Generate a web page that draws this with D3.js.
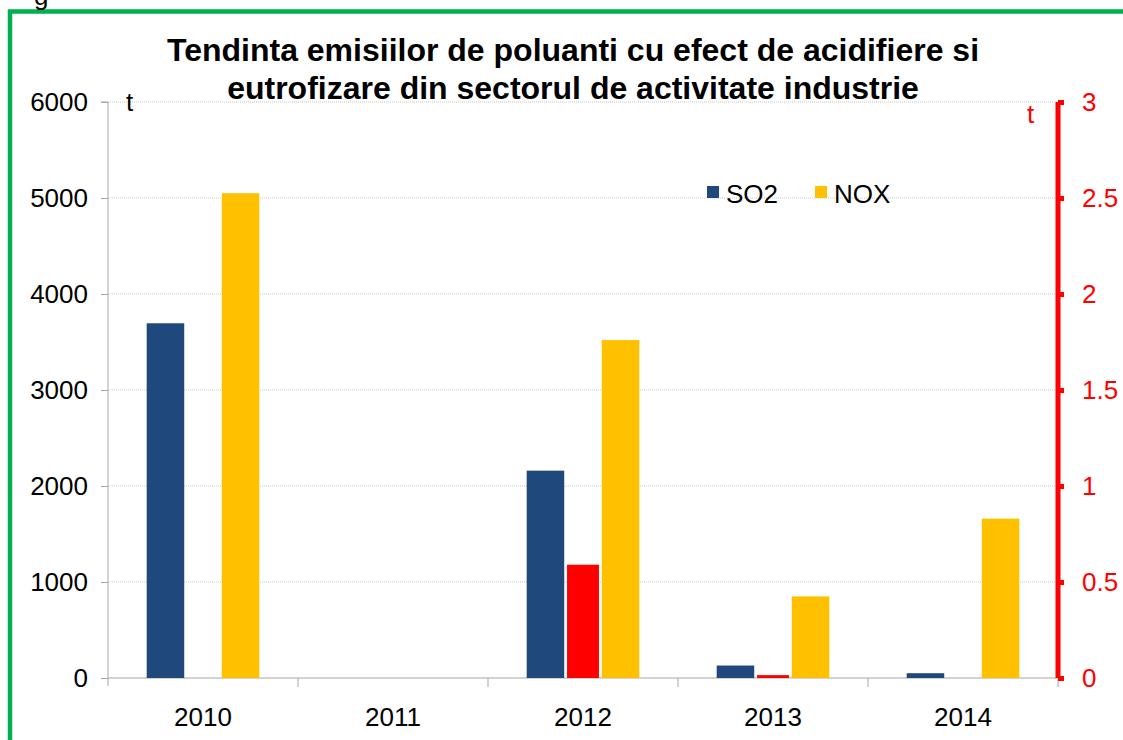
<!DOCTYPE html>
<html>
<head>
<meta charset="utf-8">
<script src="https://cdn.jsdelivr.net/npm/d3@7"></script>
<style>
  body { margin: 0; background: #fff; }
  svg { font-family: "Liberation Sans", Arial, sans-serif; }
</style>
</head>
<body>
<svg width="1123" height="740"></svg>
<script>
var years = ["2010", "2011", "2012", "2013", "2014"];
var so2 = [3695, null, 2160, 130, 50];
var nox = [5050, null, 3520, 850, 1660];
var third = [null, null, 0.59, 0.015, null];   // red series, right axis
var leftTicks = [0, 1000, 2000, 3000, 4000, 5000, 6000];
var rightTicks = [0, 0.5, 1, 1.5, 2, 2.5, 3];
var titleLines = ["Tendinta emisiilor de poluanti cu efect de acidifiere si",
                  "eutrofizare din sectorul de activitate industrie"];

var svg = d3.select("svg");
var pLeft = 108, pRight = 1058, pTop = 102, pBottom = 678;

// green frame
svg.append("path")
    .attr("d", "M10,740 V11.5 H1123")
    .attr("fill", "none")
    .attr("stroke", "#00b050")
    .attr("stroke-width", 4.5);

svg.append("text").attr("x", 34).attr("y", 5).attr("font-size", 26).text("g");

var x = d3.scaleBand().domain(years).range([pLeft, pRight]);
var inner = d3.scaleBand().domain(["so2", "red", "nox"]).range([0, x.bandwidth()])
    .paddingOuter(1.03);
var y = d3.scaleLinear().domain([0, 6000]).range([pBottom, pTop]);
var y2 = d3.scaleLinear().domain([0, 3]).range([pBottom, pTop]);

// grid
svg.append("g").selectAll("line").data(leftTicks.slice(1)).enter().append("line")
    .attr("x1", pLeft).attr("x2", pRight)
    .attr("y1", d => y(d)).attr("y2", d => y(d))
    .attr("stroke", "#c8c8c8").attr("stroke-dasharray", "1,1");

// left axis
var ax = svg.append("g").attr("transform", "translate(" + pLeft + ",0)")
    .call(d3.axisLeft(y).tickValues(leftTicks).tickFormat(d3.format("d")).tickSize(7).tickPadding(13));
ax.select(".domain").attr("stroke", "#a6a6a6").attr("d", "M-7," + pTop + "H0V" + (pBottom + 8));
ax.selectAll(".tick line").attr("stroke", "#a6a6a6");
ax.selectAll("text").attr("font-size", 26).attr("fill", "#000");

// bottom axis
var bx = svg.append("g").attr("transform", "translate(0," + pBottom + ")")
    .call(d3.axisBottom(x).tickSize(0).tickPadding(30));
bx.select(".domain").attr("stroke", "#a6a6a6").attr("d", "M" + pLeft + ",0H" + pRight);
bx.selectAll("text").attr("font-size", 26).attr("fill", "#000");
svg.append("g").selectAll("line").data(years.slice(1).concat(["end"])).enter().append("line")
    .attr("x1", d => d == "end" ? pRight : x(d)).attr("x2", d => d == "end" ? pRight : x(d))
    .attr("y1", pBottom).attr("y2", pBottom + 9)
    .attr("stroke", "#a6a6a6");

// right axis
var rx = svg.append("g").attr("transform", "translate(" + pRight + ",0)")
    .call(d3.axisRight(y2).tickValues(rightTicks).tickFormat(d => String(d)).tickSize(6).tickPadding(18));
rx.select(".domain").attr("stroke", "#ff0000").attr("stroke-width", 5)
    .attr("d", "M0," + pTop + "V" + pBottom);
rx.selectAll(".tick line").attr("stroke", "#ff0000").attr("stroke-width", 5);
rx.selectAll("text").attr("font-size", 26).attr("fill", "#ff0000");

// bars
function bars(vals, key, color, scale, shrink) {
    var w = inner.bandwidth() * shrink;
    svg.append("g").selectAll("rect").data(years.map((c, i) => ({c: c, v: vals[i]})).filter(d => d.v != null))
        .enter().append("rect")
        .attr("x", d => x(d.c) + inner(key) + (inner.bandwidth() - w) / 2)
        .attr("y", d => scale(d.v))
        .attr("width", w)
        .attr("height", d => pBottom - scale(d.v))
        .attr("fill", color);
}
bars(so2, "so2", "#1f497d", y, 1);
bars(nox, "nox", "#ffc000", y, 1);
bars(third, "red", "#ff0000", y2, 0.85);

// unit labels
svg.append("text").attr("x", 126).attr("y", 111).attr("font-size", 26).text("t");
svg.append("text").attr("x", 1027).attr("y", 123).attr("font-size", 26).attr("fill", "#ff0000").text("t");

// title
svg.append("text").attr("text-anchor", "middle").attr("font-size", 32).attr("font-weight", "bold")
    .selectAll("tspan").data(titleLines).enter().append("tspan")
    .attr("x", 573).attr("y", (d, i) => 61 + i * 38).text(d => d);

// legend
var legend = [{name: "SO2", color: "#1f497d", x: 707}, {name: "NOX", color: "#ffc000", x: 815}];
var lg = svg.append("g").selectAll("g").data(legend).enter().append("g");
lg.append("rect").attr("x", d => d.x).attr("y", 186).attr("width", 12).attr("height", 12)
    .attr("fill", d => d.color);
lg.append("text").attr("x", d => d.x + 19).attr("y", 203).attr("font-size", 26).text(d => d.name);
</script>
</body>
</html>
